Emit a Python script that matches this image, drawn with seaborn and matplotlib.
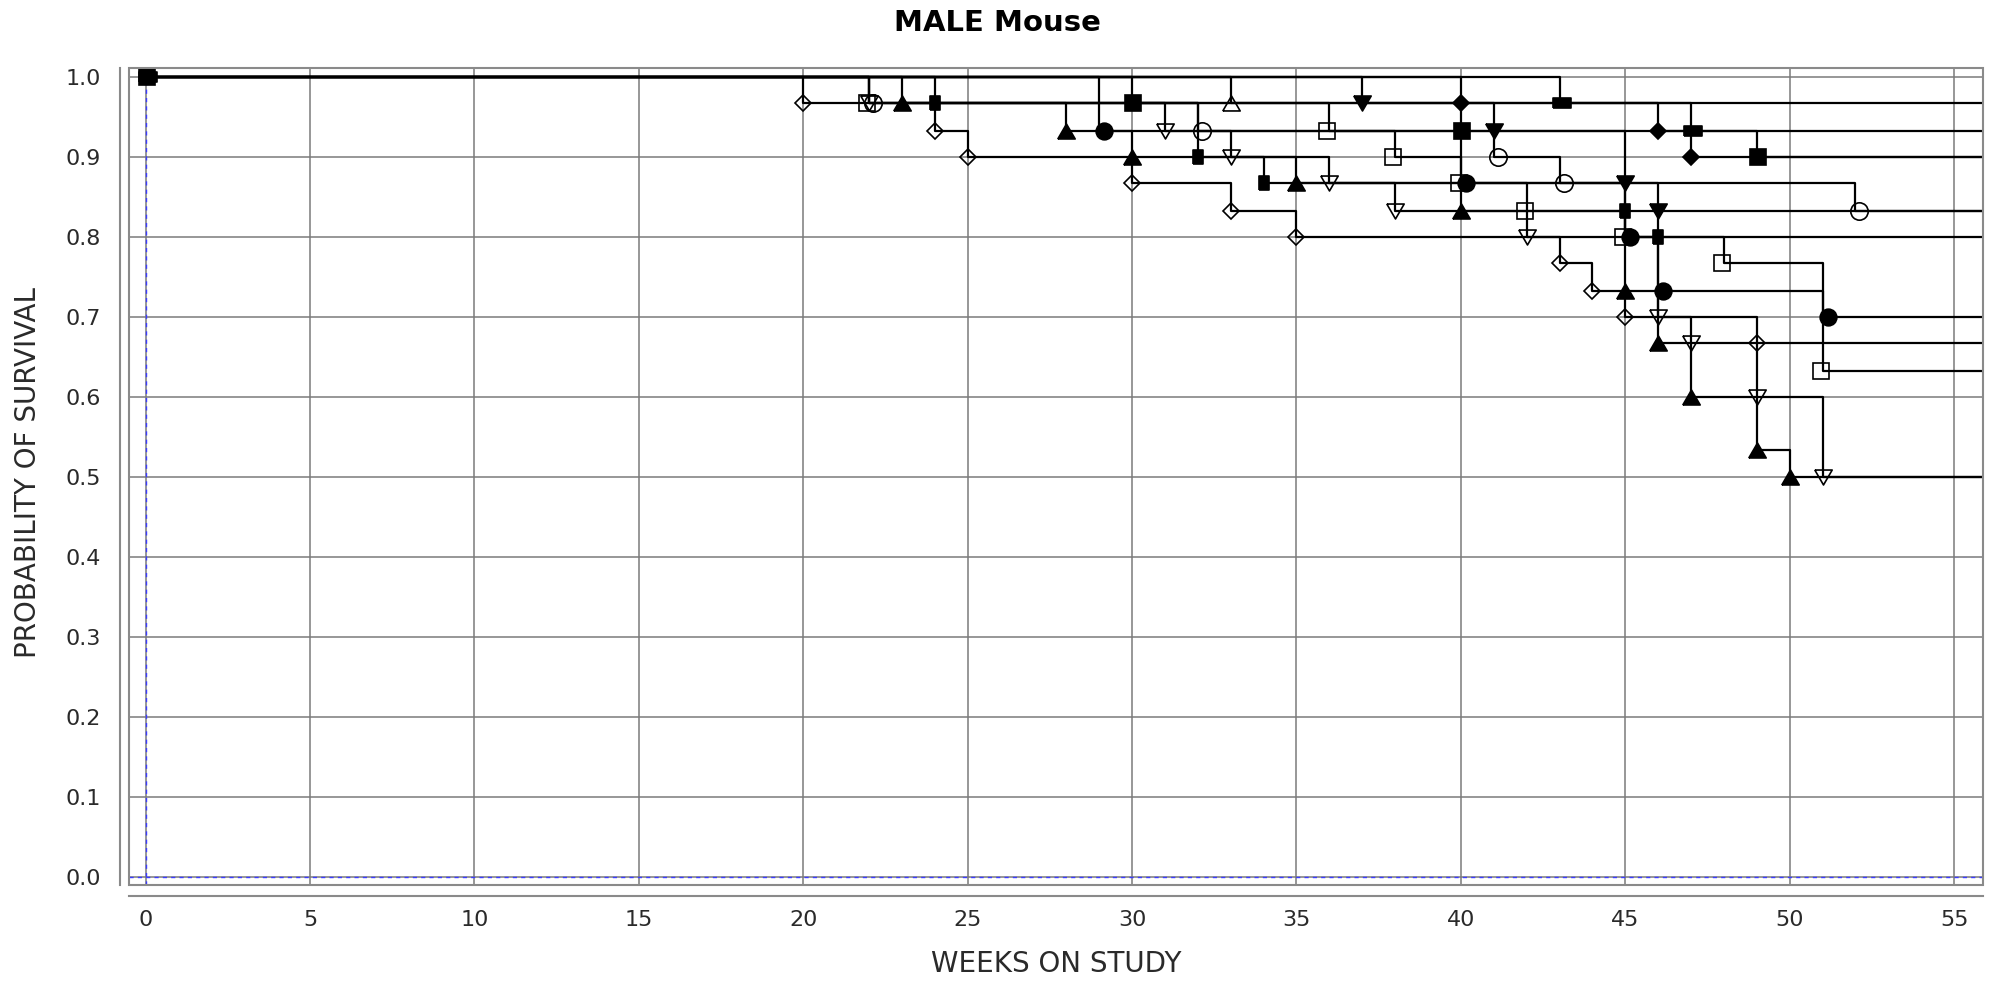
"""
Kaplan-Meier style survival curves, MALE Mouse
"""

import matplotlib
matplotlib.use("Agg")
import matplotlib.pyplot as plt
from matplotlib.patches import Rectangle
from matplotlib.transforms import ScaledTranslation
import pandas as pd
import seaborn as sns

# ─── Data (week of death, survival after the drop) ──────────────────────────

open_diamond_weeks = [20, 24, 25, 30, 33, 35, 43, 44, 45, 49]
open_diamond_surv  = [0.967, 0.933, 0.900, 0.867, 0.833, 0.800, 0.767, 0.733, 0.700, 0.667]

tri_up_weeks = [23, 28, 30, 35, 40, 45, 46, 47, 49, 50]
tri_up_surv  = [0.967, 0.933, 0.900, 0.867, 0.833, 0.733, 0.667, 0.600, 0.533, 0.500]

open_tri_down_weeks = [22, 31, 33, 36, 38, 42, 46, 47, 49, 51]
open_tri_down_surv  = [0.967, 0.933, 0.900, 0.867, 0.833, 0.800, 0.700, 0.667, 0.600, 0.500]

circle_weeks = [29, 40, 45, 46, 51]
circle_surv  = [0.933, 0.867, 0.800, 0.733, 0.700]

open_square_weeks = [22, 36, 38, 40, 42, 45, 48, 51]
open_square_surv  = [0.967, 0.933, 0.900, 0.867, 0.833, 0.800, 0.767, 0.633]

open_circle_weeks = [22, 32, 41, 43, 52]
open_circle_surv  = [0.967, 0.933, 0.900, 0.867, 0.833]

narrow_rect_weeks = [24, 32, 34, 45, 46]
narrow_rect_surv  = [0.967, 0.900, 0.867, 0.833, 0.800]

square_weeks = [30, 40, 49]
square_surv  = [0.967, 0.933, 0.900]

open_tri_up_weeks = [33]
open_tri_up_surv  = [0.967]

tri_down_weeks = [37, 41, 45, 46]
tri_down_surv  = [0.967, 0.933, 0.867, 0.833]

diamond_weeks = [40, 46, 47]
diamond_surv  = [0.967, 0.933, 0.900]

wide_rect_weeks = [43, 47]
wide_rect_surv  = [0.967, 0.933]

x_ticks = list(range(0, 56, 5))
y_ticks = [0.0, 0.1, 0.2, 0.3, 0.4, 0.5, 0.6, 0.7, 0.8, 0.9, 1.0]

# ─── Marker styles ──────────────────────────────────────────────────────────

NARROW = [(-0.36, -0.5), (0.36, -0.5), (0.36, 0.5), (-0.36, 0.5), (-0.36, -0.5)]
WIDE   = [(-0.5, -0.28), (0.5, -0.28), (0.5, 0.28), (-0.5, 0.28), (-0.5, -0.28)]
TRI_UP = [(-0.5, -0.43), (0.5, -0.43), (0.0, 0.43), (-0.5, -0.43)]
TRI_DN = [(-0.5, 0.43), (0.5, 0.43), (0.0, -0.43), (-0.5, 0.43)]

# name: (weeks, surv, marker, size, filled, x-shift in px)
groups = {
    "open_diamond":  (open_diamond_weeks,  open_diamond_surv,  "D",    8.6,  False, 0),
    "tri_up":        (tri_up_weeks,        tri_up_surv,        TRI_UP, 12.5, True,  0),
    "open_tri_down": (open_tri_down_weeks, open_tri_down_surv, TRI_DN, 12.5, False, 0),
    "circle":        (circle_weeks,        circle_surv,        "o",    12.0, True,  5),
    "open_square":   (open_square_weeks,   open_square_surv,   "s",    12.0, False, -2),
    "open_circle":   (open_circle_weeks,   open_circle_surv,   "o",    12.5, False, 4),
    "narrow_rect":   (narrow_rect_weeks,   narrow_rect_surv,   NARROW, 10.0, True,  0),
    "square":        (square_weeks,        square_surv,        "s",    12.0, True,  1),
    "open_tri_up":   (open_tri_up_weeks,   open_tri_up_surv,   TRI_UP, 12.5, False, 0),
    "tri_down":      (tri_down_weeks,      tri_down_surv,      TRI_DN, 12.5, True,  0),
    "diamond":       (diamond_weeks,       diamond_surv,       "D",    8.4,  True,  0),
    "wide_rect":     (wide_rect_weeks,     wide_rect_surv,     WIDE,   13.0, True,  2),
}
# groups whose marker also shows at the start point (week 0)
START_MARKED = ["narrow_rect", "wide_rect", "square"]

X_MIN, X_MAX = -0.508, 55.88
Y_MIN, Y_MAX = -0.0104, 1.0113
GRAY = "#8a8a8a"

# ─── Build step data ────────────────────────────────────────────────────────

rows = []
for name, (weeks, surv, *_rest) in groups.items():
    xs = [0] + weeks + [X_MAX + 2]
    ys = [1.0] + surv + [surv[-1]]
    for x, y in zip(xs, ys):
        rows.append({"group": name, "week": x, "surv": y})
df = pd.DataFrame(rows)

# ─── Plot ───────────────────────────────────────────────────────────────────

sns.set_style("white")
plt.rcParams["font.family"] = ["DejaVu Sans"]

fig = plt.figure(figsize=(19.95, 9.81), dpi=100)
ax = fig.add_axes([129 / 1995, 1 - 885 / 981, (1983 - 129) / 1995, (885 - 68) / 981])

ax.set_xlim(X_MIN, X_MAX)
ax.set_ylim(Y_MIN, Y_MAX)
ax.set_xticks(x_ticks)
ax.set_yticks(y_ticks)
ax.set_yticklabels([f"{v:.1f}" for v in y_ticks])
ax.grid(True, color="#7a7a7a", lw=1.1)
ax.set_axisbelow(True)

ax.axvline(0, color="#3c3cff", lw=1.0, ls=(0, (3, 3)), zorder=1.5)
ax.axhline(0, color="#3c3cff", lw=1.0, ls=(0, (3, 3)), zorder=1.5)

sns.lineplot(
    data=df, x="week", y="surv", units="group", estimator=None,
    drawstyle="steps-post", color="black", lw=1.6, sort=False,
    legend=False, ax=ax, zorder=2,
)

for name, (weeks, surv, marker, size, filled, shift) in groups.items():
    xs, ys = weeks, surv
    if name in START_MARKED:
        xs, ys = [0] + weeks, [1.0] + surv
    trans = ax.transData + ScaledTranslation(shift / 100, 0, fig.dpi_scale_trans)
    ax.plot(
        xs, ys, ls="none", marker=marker, ms=size, transform=trans,
        mfc="black" if filled else "none", mec="black", mew=1.2, zorder=3,
    )

ax.set_xlabel("")
ax.set_ylabel("")

for side in ["top", "right"]:
    ax.spines[side].set_visible(False)
ax.spines["left"].set_position(("outward", 6.5))
ax.spines["bottom"].set_position(("outward", 8))
for side in ["left", "bottom"]:
    ax.spines[side].set_color(GRAY)
    ax.spines[side].set_linewidth(1.5)

ax.add_patch(Rectangle((0, 0), 1, 1, transform=ax.transAxes, fill=False,
                       ec=GRAY, lw=1.5, clip_on=False, zorder=4))

ax.tick_params(axis="both", length=5, width=1, color=GRAY,
               labelsize=16, labelcolor="#2a2a2a")
ax.tick_params(axis="y", pad=8.5)
ax.tick_params(axis="x", pad=5)

fig.text(0.5, 1 - 23 / 981, "MALE Mouse", ha="center", va="center",
         fontsize=21, fontweight="bold", color="black")
fig.text(1056 / 1995, 1 - 964 / 981, "WEEKS ON STUDY", ha="center", va="center",
         fontsize=20, color="#2a2a2a")
fig.text(28 / 1995, 1 - 473 / 981, "PROBABILITY OF SURVIVAL", ha="center",
         va="center", rotation=90, fontsize=20, color="#2a2a2a")

fig.savefig("out.png", dpi=100)
